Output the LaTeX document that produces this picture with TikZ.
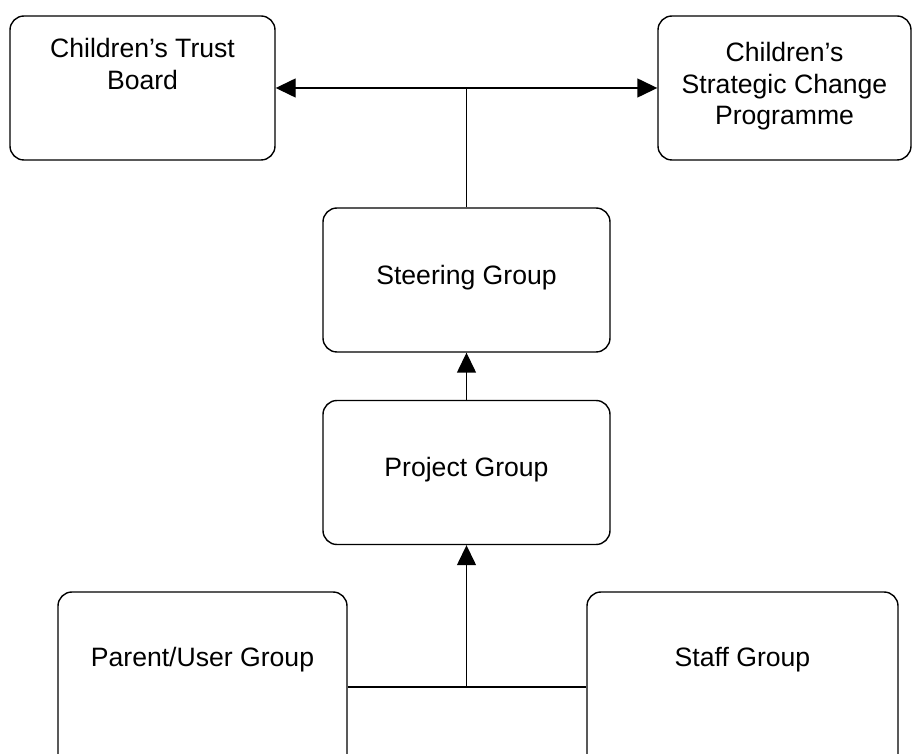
\documentclass[tikz,border=0pt]{standalone}
\usepackage{fontspec}
\setmainfont{Liberation Sans}
\usetikzlibrary{arrows.meta}
\begin{document}
\begin{tikzpicture}[x=0.5pt, y=-0.5pt, line width=0.7pt,
            grp/.style = {shape=rectangle, rounded corners=7pt, draw,
                          minimum width=#1, minimum height=72pt, inner sep=0pt},
            lbl/.style = {align=center, inner sep=0pt,
                          font=\fontsize{13.3}{15.6}\selectfont},
            arr/.style = {-{Triangle[length=10pt,width=9.5pt]}}]
  \useasboundingbox (0,0) rectangle (912,754);
  \clip (0,0) rectangle (912,754);
  \node[grp=132.5pt] (ctb) at (142.5,88) {};
  \node[grp=126.5pt] (cscp) at (784.5,88) {};
  \node[grp=143.5pt] (steer) at (466.5,280) {};
  \node[grp=143.5pt] (proj) at (466.5,472.5) {};
  \node[grp=144.5pt, minimum height=95pt] (parent) at (202.5,687) {};
  \node[grp=155.5pt, minimum height=95pt] (staff) at (742.5,687) {};
  \node[lbl, anchor=north] (ctb-t) at (142.5,38) {Children’s Trust\\Board};
  \node[lbl, anchor=north] (cscp-t) at (784.5,42) {Children’s\\Strategic Change\\Programme};
  \node[lbl, anchor=base] (steer-t) at (466.5,285) {Steering Group};
  \node[lbl, anchor=base] (proj-t) at (466.5,477) {Project Group};
  \node[lbl, anchor=base] (parent-t) at (202.5,667) {Parent/User Group};
  \node[lbl, anchor=base] (staff-t) at (742.5,667) {Staff Group};
  \coordinate (top) at (steer.north |- ctb.east);
  \draw (steer.north) -- (top);
  \draw[arr] (top) -- (ctb.east);
  \draw[arr] (top) -- (cscp.west);
  \draw[arr] (proj.north) -- (steer.south);
  \coordinate (bot) at (proj.south |- parent.east);
  \draw (parent.east) -- (staff.west);
  \draw[arr] (bot) -- (proj.south);
\end{tikzpicture}
\end{document}
